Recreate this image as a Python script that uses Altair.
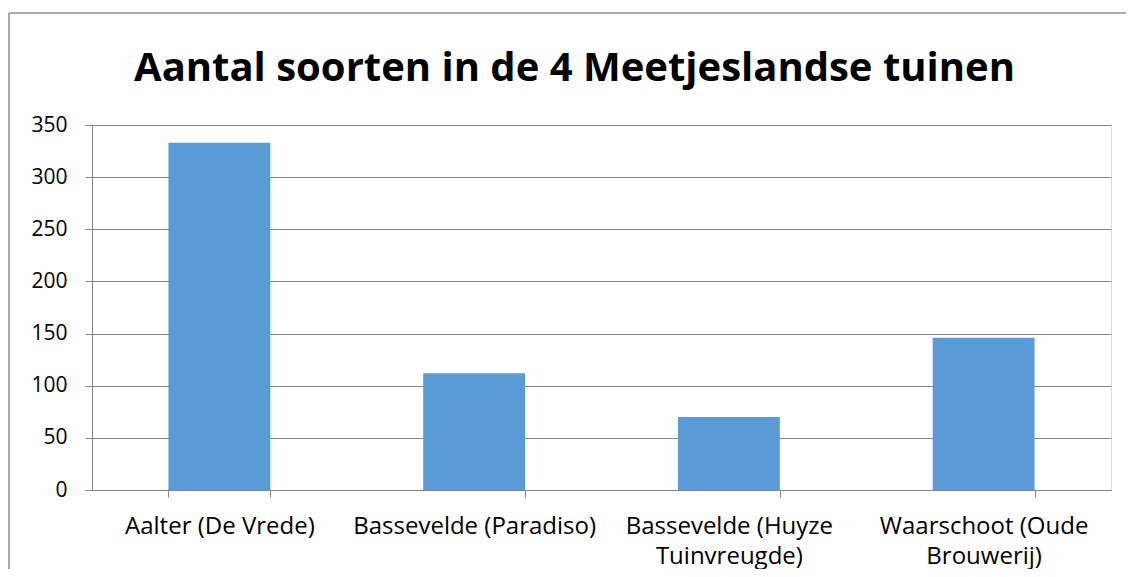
import altair as alt
import pandas as pd

categories = ["Aalter (De Vrede)", "Bassevelde (Paradiso)",
              "Bassevelde (Huyze Tuinvreugde)", "Waarschoot (Oude Brouwerij)"]
values = [333, 112, 70, 146]
y_ticks = [0, 50, 100, 150, 200, 250, 300, 350]
title_text = "Aantal soorten in de 4 Meetjeslandse tuinen"

df = pd.DataFrame({"tuin": categories, "soorten": values})

FONT = "Open Sans"
GRID = "#868686"

wrap_expr = ("length(datum.label) > 22 ? "
             "[slice(datum.label, 0, lastindexof(datum.label, ' ')), "
             "slice(datum.label, lastindexof(datum.label, ' ') + 1)] : datum.label")

bars = alt.Chart(df).mark_bar(color="#5b9bd5").encode(
    x=alt.X("tuin:N", sort=categories, title=None,
            scale=alt.Scale(paddingInner=0.6, paddingOuter=0.3),
            axis=alt.Axis(labelAngle=0, labelExpr=wrap_expr, labelFont=FONT,
                          labelFontSize=24, labelColor="#000000",
                          labelLineHeight=30, labelPadding=17,
                          tickBand="extent", tickSize=7, tickColor=GRID,
                          domainColor=GRID, grid=False, labelLimit=300)),
    y=alt.Y("soorten:Q", title=None,
            scale=alt.Scale(domain=[0, 350], nice=False),
            axis=alt.Axis(values=y_ticks, labelFont=FONT, labelFontSize=21,
                          labelColor="#000000", labelPadding=18, tickSize=7,
                          tickColor=GRID, domainColor=GRID, gridColor=GRID,
                          gridWidth=1)),
)

frame = alt.Chart(df).mark_rect(fill=None, stroke="#a6a6a6", strokeWidth=1).encode(
    x=alt.value(-83), x2=alt.value(1100), y=alt.value(-112), y2=alt.value(500)
)

chart = alt.layer(bars, frame).properties(
    width=1019, height=365,
    title=alt.TitleParams(title_text, font=FONT, fontSize=40, fontWeight="bold",
                          color="#000000", anchor="middle", dx=-27, offset=-108,
                          baseline="alphabetic"),
    autosize=alt.AutoSizeParams(type="none"),
    padding={"left": 84, "top": 117, "right": 15, "bottom": 79},
).configure_view(stroke=None).configure(background="white")

chart.save("out.html", embed_options={"renderer": "svg", "actions": False})
